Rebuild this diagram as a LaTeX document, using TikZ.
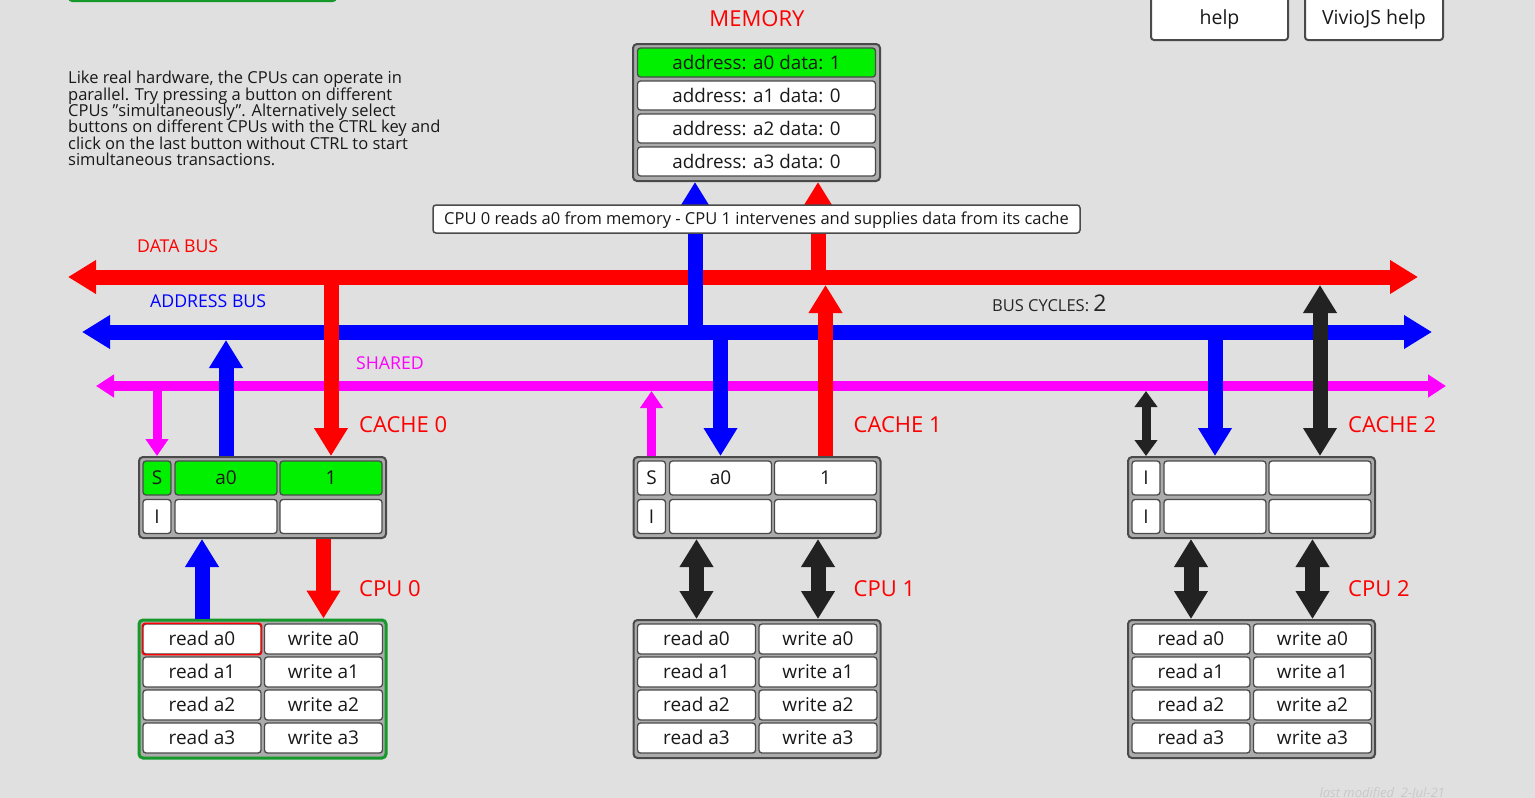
\documentclass[tikz,border=0pt]{standalone}
\usepackage{fontspec}
\setmainfont{Open Sans}
\usetikzlibrary{arrows.meta}
\definecolor{pagegray}{HTML}{E0E0E0}
\definecolor{boxgray}{HTML}{ABABAB}
\definecolor{rimgray}{HTML}{4A4A4A}
\definecolor{hitgreen}{HTML}{00F000}
\definecolor{cpugreen}{HTML}{15992A}
\definecolor{bidir}{HTML}{222222}
\definecolor{sharedpink}{RGB}{255,0,255}
\definecolor{stampgray}{HTML}{C9C9C9}
\newcommand{\off}{494.5}
\newcommand{\fsz}[1]{\fontsize{#1}{#1}\selectfont}
\newcommand{\tightlines}{\lineskiplimit=-20pt\relax}

\begin{document}
\begin{tikzpicture}[x=1pt, y=-1pt,
  boxframe/.style={draw=rimgray, line width=2pt, fill=boxgray, rounded corners=4pt, inner sep=0pt},
  cell/.style={draw=rimgray, line width=1.3pt, fill=white, rounded corners=3pt, inner sep=0pt,
    minimum height=34pt, text height=14.5pt, text depth=1.5pt, font=\fsz{19}, text=black!90},
  flagcell/.style={cell, minimum width=28pt},
  slot/.style={cell, minimum width=102pt},
  hit/.style={fill=hitgreen},
  btn/.style={cell, minimum width=118pt, minimum height=30pt},
  memrow/.style={cell, minimum width=238pt, minimum height=29pt, font=\fsz{18.8}},
  unitlabel/.style={text=red, font=\fsz{22}, anchor=base west, inner sep=0pt},
  buslabel/.style={font=\fsz{17.7}, anchor=base west, inner sep=0pt},
  fat/.style={line width=15pt, -{Triangle[length=28pt, width=32pt]}},
  fatboth/.style={line width=15pt, {Triangle[length=28pt, width=32pt]}-{Triangle[length=28pt, width=32pt]}},
  slim/.style={line width=9pt, -{Triangle[length=17pt, width=22pt]}},
  slimboth/.style={line width=9pt, {Triangle[length=16pt, width=22pt]}-{Triangle[length=16pt, width=22pt]}}]

  \useasboundingbox (0,0) rectangle (1535,798);
  \fill[pagegray] (0,0) rectangle (1535,798);
  \fill[cpugreen, rounded corners=4pt] (68,-10) rectangle (337,2);

  % buttons and notes
  \node[cell, line width=2pt, minimum width=137pt, minimum height=44pt, font=\fsz{19.5}, text height=14pt, text depth=1pt] (help) at (1219.5,18) {help};
  \node[cell, line width=2pt, minimum width=138pt, minimum height=44pt, font=\fsz{19.5}, text height=14pt, text depth=1pt] (viviohelp) at (1374,18) {VivioJS help};
  \node[anchor=north west, align=left, inner sep=0pt, text=black!90,
    font=\fontsize{16.5}{16.4}\selectfont\tightlines] (blurb) at (68,71)
    {Like real hardware, the CPUs can operate in\\
     parallel. Try pressing a button on different\\
     CPUs \symbol{34}simultaneously\symbol{34}. Alternatively select\\
     buttons on different CPUs with the CTRL key and\\
     click on the last button without CTRL to start\\
     simultaneous transactions.};
  \node[anchor=base west, text=stampgray, font=\fsz{13}\itshape] (stamp) at (1316,797) {last modified\ \ 2-Jul-21};

  % buses
  \coordinate (dbL) at (68,277);  \coordinate (dbR) at (1418,277);
  \coordinate (abL) at (82,332);  \coordinate (abR) at (1432,332);
  \coordinate (sbL) at (96,386);  \coordinate (sbR) at (1446,386);
  \coordinate (dbE) at (68,285);
  \coordinate (abE) at (82,340);
  \coordinate (sbE) at (96,391);
  \draw[fatboth, red] (dbL) -- (dbR);
  \draw[fatboth, blue] (abL) -- (abR);
  \draw[line width=10pt, sharedpink, {Triangle[length=18pt, width=22pt]}-{Triangle[length=18pt, width=22pt]}] (sbL) -- (sbR);
  \node[buslabel, text=red] (dblabel) at (137,252) {DATA BUS};
  \node[buslabel, text=blue] (ablabel) at (150,307) {ADDRESS BUS};
  \node[buslabel, text=sharedpink] (sblabel) at (356,369) {SHARED};
  \node[anchor=base west, text=black!85, inner sep=0pt] (cycles) at (992,311) {\fsz{16.5}BUS CYCLES: {\fsz{23}2}};

  % memory
  \node[text=red, font=\fsz{22}, anchor=base] (memtitle) at (757,26) {MEMORY};
  \node[boxframe, minimum width=247pt, minimum height=137pt] (mem) at (756.5,112.5) {};
  \node[memrow, hit] (m0) at (756.5,62.5) {address: a0 data: 1};
  \node[memrow] (m1) at (756.5,95.5) {address: a1 data: 0};
  \node[memrow] (m2) at (756.5,128.5) {address: a2 data: 0};
  \node[memrow] (m3) at (756.5,161.5) {address: a3 data: 0};
  \coordinate (memA) at (695,182);
  \coordinate (memD) at (818,182);
  \draw[fat, blue] (memA |- abL) -- (memA);
  \draw[fat, red] (memD |- dbL) -- (memD);
  \node[cell, line width=1.5pt, minimum width=647pt, minimum height=28pt, font=\fsz{16.5}, text height=12.5pt] (note) at (756.5,219)
    {CPU 0 reads a0 from memory - CPU 1 intervenes and supplies data from its cache};

  % cache 0 and cpu 0
  \node[boxframe, minimum width=247pt, minimum height=81pt] (cache0) at (262.5,497.5) {};
  \node[flagcell, hit] (c0s) at (157,478) {S};
  \node[slot, hit] (c0a) at (226,478) {a0};
  \node[slot, hit] (c0d) at (331,478) {1};
  \node[flagcell] (c0s2) at (157,516.5) {I};
  \node[slot] (c0a2) at (226,516.5) {};
  \node[slot] (c0d2) at (331,516.5) {};
  \node[boxframe, draw=cpugreen, line width=3pt, minimum width=247pt, minimum height=138pt] (cpu0) at (262.5,689) {};
  \foreach \r in {0,...,3} {
    \node[btn] (cpu0r\r) at (202,{639+33*\r}) {read a\r};
    \node[btn] (cpu0w\r) at (323.5,{639+33*\r}) {write a\r};
  }
  \draw[red, line width=1.6pt, rounded corners=3pt] (cpu0r0.south west) rectangle (cpu0r0.north east);
  \node[unitlabel] (cache0label) at (359,432) {CACHE 0};
  \node[unitlabel] (cpu0label) at (359,596) {CPU 0};
  \draw[slim, sharedpink] (c0s |- sbL) -- (c0s |- cache0.north);
  \draw[fat, blue] (c0a |- cache0.north) -- (c0a |- abE);
  \draw[fat, red] (c0d |- dbL) -- (c0d |- cache0.north);
  \draw[fat, blue] (cpu0r0 |- cpu0.north) -- (cpu0r0 |- cache0.south);
  \draw[fat, red] (cpu0w0 |- cache0.south) -- (cpu0w0 |- cpu0.north);

\tikzset{shift={(\off,0)}}

  % cache 1 and cpu 1
  \node[boxframe, minimum width=247pt, minimum height=81pt] (cache1) at (262.5,497.5) {};
  \node[flagcell] (c1s) at (157,478) {S};
  \node[slot] (c1a) at (226,478) {a0};
  \node[slot] (c1d) at (331,478) {1};
  \node[flagcell] (c1s2) at (157,516.5) {I};
  \node[slot] (c1a2) at (226,516.5) {};
  \node[slot] (c1d2) at (331,516.5) {};
  \node[boxframe, minimum width=247pt, minimum height=138pt] (cpu1) at (262.5,689) {};
  \foreach \r in {0,...,3} {
    \node[btn] (cpu1r\r) at (202,{639+33*\r}) {read a\r};
    \node[btn] (cpu1w\r) at (323.5,{639+33*\r}) {write a\r};
  }
  \node[unitlabel] (cache1label) at (359,432) {CACHE 1};
  \node[unitlabel] (cpu1label) at (359,596) {CPU 1};
  \draw[slim, sharedpink] (c1s |- cache1.north) -- (c1s |- sbE);
  \draw[fat, blue] (c1a |- abL) -- (c1a |- cache1.north);
  \draw[fat, red] (c1d |- cache1.north) -- (c1d |- dbE);
  \draw[fatboth, bidir] (cpu1r0 |- cache1.south) -- (cpu1r0 |- cpu1.north);
  \draw[fatboth, bidir] (cpu1w0 |- cache1.south) -- (cpu1w0 |- cpu1.north);

\tikzset{shift={(\off,0)}}

  % cache 2 and cpu 2
  \node[boxframe, minimum width=247pt, minimum height=81pt] (cache2) at (262.5,497.5) {};
  \node[flagcell] (c2s) at (157,478) {I};
  \node[slot] (c2a) at (226,478) {};
  \node[slot] (c2d) at (331,478) {};
  \node[flagcell] (c2s2) at (157,516.5) {I};
  \node[slot] (c2a2) at (226,516.5) {};
  \node[slot] (c2d2) at (331,516.5) {};
  \node[boxframe, minimum width=247pt, minimum height=138pt] (cpu2) at (262.5,689) {};
  \foreach \r in {0,...,3} {
    \node[btn] (cpu2r\r) at (202,{639+33*\r}) {read a\r};
    \node[btn] (cpu2w\r) at (323.5,{639+33*\r}) {write a\r};
  }
  \node[unitlabel] (cache2label) at (359,432) {CACHE 2};
  \node[unitlabel] (cpu2label) at (359,596) {CPU 2};
  \draw[slimboth, bidir] (c2s |- sbE) -- (c2s |- cache2.north);
  \draw[fat, blue] (c2a |- abL) -- (c2a |- cache2.north);
  \draw[fatboth, bidir] (c2d |- dbE) -- (c2d |- cache2.north);
  \draw[fatboth, bidir] (cpu2r0 |- cache2.south) -- (cpu2r0 |- cpu2.north);
  \draw[fatboth, bidir] (cpu2w0 |- cache2.south) -- (cpu2w0 |- cpu2.north);
\end{tikzpicture}
\end{document}
